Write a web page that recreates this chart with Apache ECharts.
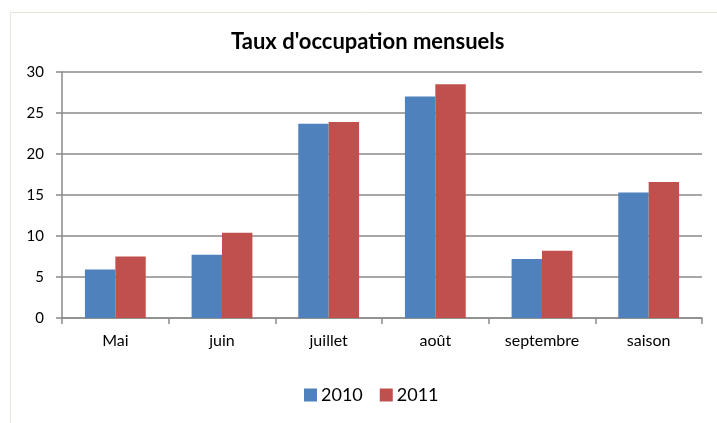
<!DOCTYPE html>
<html>
<head>
<meta charset="utf-8">
<script src="https://cdn.jsdelivr.net/npm/echarts@6/dist/echarts.min.js"></script>
<style>
  html, body { margin: 0; padding: 0; background: #fff; overflow: hidden; }
  #chart { width: 717px; height: 423px; }
</style>
</head>
<body>
<div id="chart"></div>
<script>
var mois = ['Mai', 'juin', 'juillet', 'août', 'septembre', 'saison']
var annees = ['2010', '2011']
var taux2010 = [5.9, 7.7, 23.7, 27.0, 7.2, 15.3]
var taux2011 = [7.5, 10.4, 23.9, 28.5, 8.2, 16.6]

var police = 'Lato, "Open Sans", sans-serif'
var gris = '#8a8a8a'

var myChart = echarts.init(document.getElementById('chart'))

myChart.setOption({
  animation: false,
  color: ['#4f81bd', '#c0504d'],
  textStyle: { fontFamily: police },
  // cadre clair autour du graphique
  graphic: [{
    type: 'rect',
    shape: { x: 10.5, y: 12.5, width: 800, height: 500 },
    style: { fill: 'none', stroke: '#e6e6dc', lineWidth: 1 },
    silent: true
  }],
  title: {
    text: "Taux d'occupation mensuels",
    left: 231,
    top: 31,
    padding: 0,
    textStyle: { fontFamily: police, fontSize: 22, fontWeight: 'bold', color: '#000' }
  },
  legend: {
    data: annees,
    left: 304,
    top: 386,
    padding: 0,
    icon: 'rect',
    itemWidth: 13,
    itemHeight: 13,
    itemGap: 17,
    textStyle: { fontFamily: police, fontSize: 18, color: '#000', padding: [0, 0, 0, -1] }
  },
  grid: { left: 62, right: 15, top: 72, bottom: 105 },
  xAxis: {
    type: 'category',
    data: mois,
    axisLine: { lineStyle: { color: gris, width: 1.5 } },
    axisTick: { show: true, length: 6, lineStyle: { color: gris, width: 1.5 } },
    axisLabel: { color: '#000', fontSize: 16, margin: 15, fontFamily: police }
  },
  yAxis: {
    type: 'value',
    min: 0,
    max: 30,
    interval: 5,
    axisLine: { show: true, lineStyle: { color: gris, width: 1.5 } },
    axisTick: { show: true, length: 6, lineStyle: { color: gris, width: 1.5 } },
    axisLabel: { color: '#000', fontSize: 15, margin: 18, fontFamily: police },
    splitLine: { lineStyle: { color: gris, width: 1.5 } }
  },
  series: [
    {
      name: '2010',
      type: 'bar',
      data: taux2010,
      barGap: '0%',
      barCategoryGap: '43%'
    },
    {
      name: '2011',
      type: 'bar',
      data: taux2011,
      barGap: '0%',
      barCategoryGap: '43%'
    }
  ]
})
</script>
</body>
</html>
